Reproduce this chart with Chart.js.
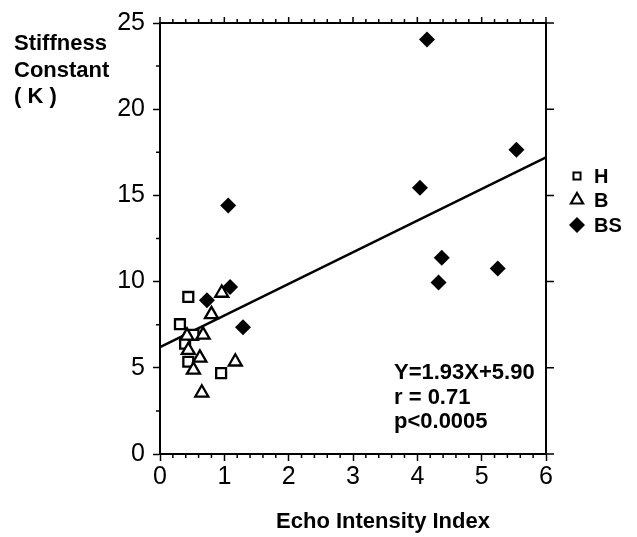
<!DOCTYPE html>
<html>
<head>
<meta charset="utf-8">
<script src="https://cdn.jsdelivr.net/npm/chart.js@4.4.1/dist/chart.umd.min.js"></script>
<style>
  body { margin: 0; background: #fff; }
</style>
</head>
<body>
<canvas id="stiffness" width="637" height="537"></canvas>
<script>
// values
const hX = [0.44, 0.31, 0.39, 0.52, 0.44, 0.95];
const hY = [9.11, 7.53, 6.40, 6.91, 5.35, 4.69];
const bX = [0.96, 0.80, 0.67, 0.42, 0.44, 0.62, 0.52, 1.17, 0.65];
const bY = [9.34, 8.10, 6.91, 6.85, 6.02, 5.58, 4.88, 5.35, 3.55];
const bsX = [0.73, 1.09, 1.29, 1.06, 4.15, 5.54, 4.04, 4.38, 5.25, 4.33];
const bsY = [8.92, 9.68, 7.35, 14.42, 24.05, 17.65, 15.45, 11.39, 10.76, 9.95];
const fitX = [0, 6];
const fitY = [6.2, 17.2];
const xTicks = [0, 1, 2, 3, 4, 5, 6];
const yTicks = [0, 5, 10, 15, 20, 25];
const legendLabels = ["H", "B", "BS"];
const statLines = ["Y=1.93X+5.90", "r = 0.71", "p<0.0005"];

const FONT = "'Liberation Sans', Arial, Helvetica, sans-serif";

function pts(xs, ys) {
    return xs.map((x, i) => ({x: x, y: ys[i]}));
}

const framePlugin = {
    id: "frame",
    afterDraw(chart) {
        const ctx = chart.ctx;
        const a = chart.chartArea;
        const xs = chart.scales.x, ys = chart.scales.y;
        ctx.save();
        ctx.strokeStyle = "#000";
        ctx.lineWidth = 2;
        ctx.beginPath();
        ctx.moveTo(a.left, a.top);
        ctx.lineTo(a.right, a.top);
        ctx.lineTo(a.right, a.bottom);
        ctx.stroke();

        // top / bottom ticks
        ctx.lineWidth = 1.5;
        ctx.beginPath();
        for (let i = 0; i <= 30; i++) {
            const px = xs.getPixelForValue(i / 5);
            const major = i % 5 === 0;
            ctx.moveTo(px, a.top);
            ctx.lineTo(px, a.top - (major ? 6 : 4));
            if (!major) {
                ctx.moveTo(px, a.bottom);
                ctx.lineTo(px, a.bottom + 4);
            }
        }
        // right ticks, left minor ticks
        for (let v = 0; v <= 25; v += 2.5) {
            const py = ys.getPixelForValue(v);
            if (v % 5 === 0) {
                ctx.moveTo(a.right, py);
                ctx.lineTo(a.right + 8, py);
            } else {
                ctx.moveTo(a.left, py);
                ctx.lineTo(a.left - 4, py);
            }
        }
        ctx.stroke();

        ctx.fillStyle = "#000";
        ctx.textAlign = "left";
        ctx.textBaseline = "alphabetic";

        // y title, horizontal at top-left
        ctx.font = "bold 22px " + FONT;
        ctx.fillText("Stiffness", 14, 50);
        ctx.fillText("Constant", 14, 77);
        ctx.fillText("( K )", 14, 103);

        // x title
        ctx.textAlign = "center";
        ctx.fillText("Echo Intensity Index", 383, 528);

        // stats
        ctx.textAlign = "left";
        ctx.font = "bold 22px " + FONT;
        statLines.forEach((t, i) => ctx.fillText(t, 394, 379 + i * 24.5));

        // legend
        const marks = [
            {pointStyle: "rect", radius: 5, rotation: 0, borderWidth: 2, fill: "#fff"},
            {pointStyle: "triangle", radius: 7, rotation: 0, borderWidth: 2.2, fill: "#fff"},
            {pointStyle: "rectRot", radius: 8, rotation: 0, borderWidth: 0, fill: "#000"}
        ];
        const ly = [176, 200, 225];
        ctx.font = "bold 20px " + FONT;
        marks.forEach((m, i) => {
            ctx.fillStyle = m.fill;
            ctx.strokeStyle = "#000";
            ctx.lineWidth = m.borderWidth;
            Chart.helpers.drawPoint(ctx, m, 577, ly[i]);
            ctx.fillStyle = "#000";
            ctx.fillText(legendLabels[i], 594, ly[i] + 7);
        });
        ctx.restore();
    }
};

new Chart("stiffness", {
    type: "scatter",
    data: {
        datasets: [
            {
                label: "fit",
                data: pts(fitX, fitY),
                showLine: true,
                borderColor: "#000",
                borderWidth: 2.5,
                pointRadius: 0,
                order: 3,
            },
            {
                label: legendLabels[0],
                data: pts(hX, hY),
                pointStyle: "rect",
                pointRadius: 7,
                backgroundColor: "#fff",
                borderColor: "#000",
                borderWidth: 2.3,
                order: 2,
            },
            {
                label: legendLabels[1],
                data: pts(bX, bY),
                pointStyle: "triangle",
                pointRadius: 7.5,
                backgroundColor: "#fff",
                borderColor: "#000",
                borderWidth: 2.3,
                order: 1,
            },
            {
                label: legendLabels[2],
                data: pts(bsX, bsY),
                pointStyle: "rectRot",
                pointRadius: 8,
                backgroundColor: "#000",
                borderColor: "#000",
                borderWidth: 0,
                order: 0,
            },
        ],
    },
    options: {
        responsive: false,
        animation: false,
        layout: { padding: { left: 0, right: 91, top: 15, bottom: 0 } },
        plugins: {
            legend: { display: false },
            tooltip: { enabled: false },
        },
        scales: {
            x: {
                type: "linear",
                min: 0,
                max: 6,
                afterBuildTicks: (s) => { s.ticks = xTicks.map(v => ({value: v})); },
                afterFit: (s) => { s.height = 83; },
                ticks: {
                    color: "#000",
                    font: { family: FONT, size: 25 },
                    padding: 1,
                },
                grid: { drawOnChartArea: false, tickLength: 7, tickWidth: 1.5, tickColor: "#000" },
                border: { color: "#000", width: 2 },
            },
            y: {
                type: "linear",
                min: 0,
                max: 25,
                afterBuildTicks: (s) => { s.ticks = yTicks.map(v => ({value: v})); },
                afterFit: (s) => { s.width = 160; },
                ticks: {
                    color: "#000",
                    font: { family: FONT, size: 25 },
                    padding: 8,
                },
                grid: { drawOnChartArea: false, tickLength: 7, tickWidth: 1.5, tickColor: "#000" },
                border: { color: "#000", width: 2 },
            },
        },
    },
    plugins: [framePlugin],
});
</script>
</body>
</html>
